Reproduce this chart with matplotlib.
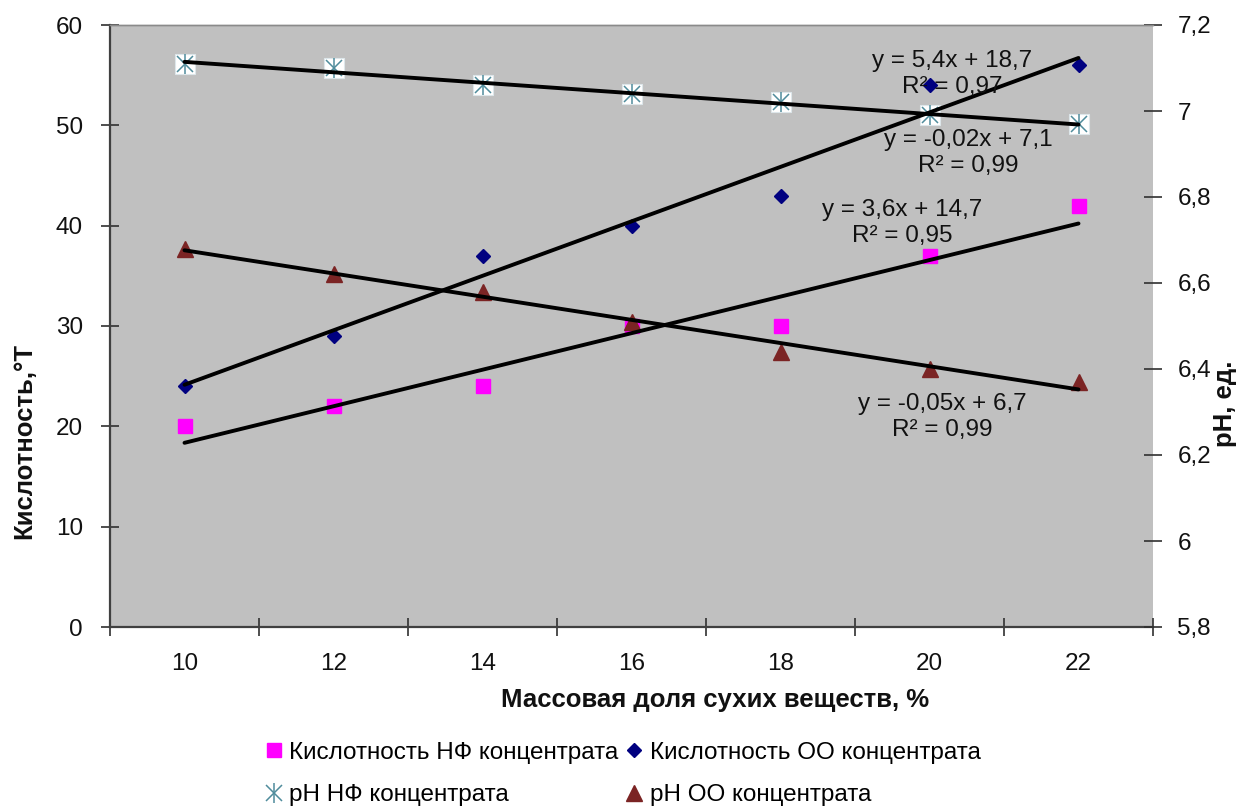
import matplotlib
matplotlib.use('agg')
import matplotlib.pyplot as plt
import numpy as np
from matplotlib.legend_handler import HandlerTuple

plt.rcParams['font.family'] = ['Liberation Sans', 'DejaVu Sans']

# data
dry_matter = [10, 12, 14, 16, 18, 20, 22]
acid_nf = [20, 22, 24, 30, 30, 37, 42]
acid_oo = [24, 29, 37, 40, 43, 54, 56]
ph_nf = [7.11, 7.10, 7.06, 7.04, 7.02, 6.99, 6.97]
ph_oo = [6.68, 6.62, 6.58, 6.51, 6.44, 6.40, 6.37]

series_names = ['Кислотность НФ концентрата', 'Кислотность ОО концентрата',
                'рН НФ концентрата', 'рН ОО концентрата']
trend_texts = ['y = 5,4x + 18,7\nR² = 0,97', 'y = -0,02x + 7,1\nR² = 0,99',
               'y = 3,6x + 14,7\nR² = 0,95', 'y = -0,05x + 6,7\nR² = 0,99']

W, H = 1245, 808


def px(x, y):
    # pixel position -> figure fraction
    return x / W, 1 - y / H


def ph_fmt(v, pos=None):
    s = f'{v:.1f}'.rstrip('0').rstrip('.')
    return s.replace('.', ',')


fig = plt.figure(figsize=(W / 100, H / 100), dpi=100)
ax = fig.add_axes([110 / W, 1 - 627 / H, (1153 - 110) / W, (627 - 25) / H])
ax.set_facecolor('#c0c0c0')
ax2 = ax.twinx()

idx = np.arange(1, len(dry_matter) + 1)

# markers
h_nf, = ax.plot(idx, acid_nf, 's', color='#ff00ff', ms=10, ls='none', zorder=3)
h_oo, = ax.plot(idx, acid_oo, 'D', color='#000080', ms=7, ls='none', zorder=3)
ax2.plot(idx, ph_nf, 's', mfc='white', mec='#dde6ea', mew=0.8, ms=14, ls='none', zorder=2)
hx, = ax2.plot(idx, ph_nf, 'x', color='#4f8c9c', ms=12, mew=1.1, ls='none', zorder=3)
hv, = ax2.plot(idx, ph_nf, '|', color='#4f8c9c', ms=15, mew=1.1, ls='none', zorder=3)
h_ph_oo, = ax2.plot(idx, ph_oo, '^', color='#7b2424', ms=12, ls='none', zorder=3)

# linear trendlines, all drawn on top
for vals, tr in [(acid_nf, ax.transData), (acid_oo, ax.transData),
                 (ph_nf, ax2.transData), (ph_oo, ax2.transData)]:
    k, b = np.polyfit(idx, vals, 1)
    ax2.plot(idx, k * idx + b, color='black', lw=2.8, transform=tr,
             zorder=6, solid_capstyle='round')

# axes
ax.set_xlim(0.5, len(dry_matter) + 0.5)
ax.set_ylim(0, 60)
ax2.set_ylim(5.8, 7.2)
ax.set_yticks(np.arange(0, 61, 10))
ax2.set_yticks(np.round(np.arange(5.8, 7.21, 0.2), 1))
ax2.yaxis.set_major_formatter(plt.FuncFormatter(ph_fmt))

ax.set_xticks(np.arange(0.5, len(dry_matter) + 1, 1))
ax.set_xticklabels([])
ax.set_xticks(idx, minor=True)
ax.set_xticklabels([str(v) for v in dry_matter], minor=True)

tick_col = '#303030'
ax.tick_params(axis='x', which='major', direction='inout', length=13, width=1.2, color=tick_col)
ax.tick_params(axis='x', which='minor', length=0, pad=19, labelsize=17.5, labelcolor='#111111')
ax.tick_params(axis='y', direction='inout', length=13, width=1.2, color=tick_col,
               pad=13, labelsize=17.5, labelcolor='#111111')
ax2.tick_params(axis='y', direction='inout', length=13, width=1.2, color=tick_col,
                pad=11, labelsize=17.5, labelcolor='#111111')

for a in (ax, ax2):
    a.spines['right'].set_visible(False)
    a.spines['top'].set_color('#8a8a8a')
    a.spines['top'].set_linewidth(1.0)
ax.spines['left'].set_color('#404040')
ax.spines['left'].set_linewidth(1.6)
ax.spines['bottom'].set_color('#404040')
ax.spines['bottom'].set_linewidth(1.6)
ax2.spines['left'].set_visible(False)
ax2.spines['bottom'].set_visible(False)

# axis titles
fig.text(*px(715, 700), 'Массовая доля сухих веществ, %', ha='center', va='center',
         fontsize=18.5, fontweight='bold', color='#111111')
fig.text(*px(24, 441), 'Кислотность,°Т', ha='center', va='center', rotation=90,
         fontsize=18.5, fontweight='bold', color='#111111')
fig.text(*px(1225, 404), 'рН, ед.', ha='center', va='center', rotation=90,
         fontsize=18.5, fontweight='bold', color='#111111')

# trendline equations
for txt, (x, y) in zip(trend_texts, [(952, 74), (968, 153), (902, 223), (942, 417)]):
    fig.text(*px(x, y), txt, ha='center', va='center', ma='center',
             fontsize=17.5, color='#111111', linespacing=1.25)

# legend (column-first order gives the two rows)
handles = [h_nf, (hx, hv), h_oo, h_ph_oo]
names = [series_names[0], series_names[2], series_names[1], series_names[3]]
fig.legend(handles, names, ncol=2, loc='center left', bbox_to_anchor=px(265, 774),
           frameon=False, fontsize=17.5, handlelength=0.7, handletextpad=0.3,
           columnspacing=0.3, labelspacing=0.85, borderpad=0, borderaxespad=0,
           handler_map={tuple: HandlerTuple(ndivide=1)})

fig.savefig('out.png', dpi=100)
